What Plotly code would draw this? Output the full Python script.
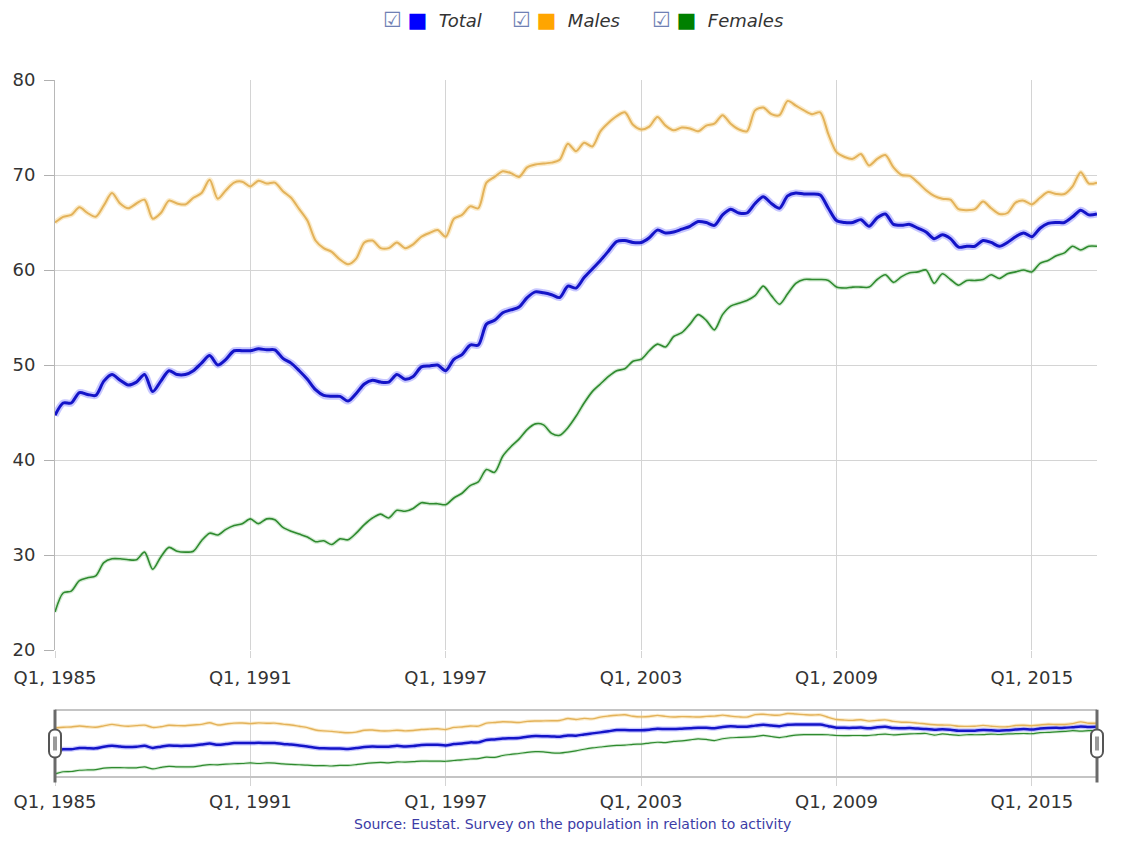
import plotly.graph_objects as go

# ---------------- data ----------------
years = list(range(1985, 2018))
quarters = [f"Q{q}, {y}" for y in years for q in (1, 2, 3, 4)][:129]

total = [
    44.7, 46.0, 46.0, 47.1,  # 1985
    46.9, 46.8, 48.3, 49.0,  # 1986
    48.4, 47.9, 48.2, 49.0,  # 1987
    47.2, 48.3, 49.4, 49.0,  # 1988
    49.0, 49.4, 50.2, 51.0,  # 1989
    50.0, 50.6, 51.5, 51.5,  # 1990
    51.5, 51.7, 51.6, 51.6,  # 1991
    50.7, 50.2, 49.4, 48.5,  # 1992
    47.4, 46.8, 46.7, 46.7,  # 1993
    46.2, 47.0, 48.0, 48.4,  # 1994
    48.2, 48.2, 49.0, 48.5,  # 1995
    48.8, 49.8, 49.9, 50.0,  # 1996
    49.4, 50.6, 51.1, 52.1,  # 1997
    52.1, 54.3, 54.7, 55.5,  # 1998
    55.8, 56.1, 57.1, 57.7,  # 1999
    57.6, 57.4, 57.1, 58.3,  # 2000
    58.1, 59.2, 60.1, 61.0,  # 2001
    62.0, 63.0, 63.1, 62.9,  # 2002
    62.9, 63.4, 64.2, 63.9,  # 2003
    64.0, 64.3, 64.6, 65.1,  # 2004
    65.0, 64.7, 65.8, 66.4,  # 2005
    66.0, 66.0, 67.0, 67.7,  # 2006
    67.0, 66.5, 67.8, 68.1,  # 2007
    68.0, 68.0, 67.9, 66.5,  # 2008
    65.2, 65.0, 65.0, 65.3,  # 2009
    64.6, 65.5, 65.9, 64.8,  # 2010
    64.7, 64.8, 64.4, 64.0,  # 2011
    63.3, 63.7, 63.3, 62.4,  # 2012
    62.5, 62.5, 63.1, 62.9,  # 2013
    62.5, 62.9, 63.5, 63.9,  # 2014
    63.5, 64.4, 64.9, 65.0,  # 2015
    65.0, 65.6, 66.3, 65.8,  # 2016
    65.9,                    # 2017
]

males = [
    65.0, 65.6, 65.8, 66.6,  # 1985
    66.0, 65.6, 66.8, 68.1,  # 1986
    67.0, 66.5, 67.0, 67.4,  # 1987
    65.4, 66.0, 67.3, 67.0,  # 1988
    66.9, 67.6, 68.1, 69.5,  # 1989
    67.5, 68.4, 69.2, 69.3,  # 1990
    68.8, 69.4, 69.1, 69.2,  # 1991
    68.3, 67.6, 66.4, 65.2,  # 1992
    63.1, 62.3, 61.9, 61.1,  # 1993
    60.6, 61.2, 62.9, 63.1,  # 1994
    62.3, 62.3, 62.9, 62.3,  # 1995
    62.7, 63.5, 63.9, 64.2,  # 1996
    63.5, 65.4, 65.8, 66.7,  # 1997
    66.5, 69.2, 69.8, 70.4,  # 1998
    70.2, 69.8, 70.8, 71.1,  # 1999
    71.2, 71.3, 71.6, 73.3,  # 2000
    72.5, 73.4, 73.0, 74.6,  # 2001
    75.5, 76.2, 76.6, 75.3,  # 2002
    74.8, 75.1, 76.1, 75.2,  # 2003
    74.7, 75.0, 74.9, 74.6,  # 2004
    75.2, 75.4, 76.3, 75.4,  # 2005
    74.8, 74.6, 76.8, 77.1,  # 2006
    76.4, 76.3, 77.8, 77.3,  # 2007
    76.8, 76.4, 76.6, 74.3,  # 2008
    72.4, 71.9, 71.7, 72.2,  # 2009
    71.0, 71.7, 72.1, 70.8,  # 2010
    70.0, 69.9, 69.2, 68.4,  # 2011
    67.8, 67.5, 67.4, 66.4,  # 2012
    66.3, 66.4, 67.2, 66.5,  # 2013
    65.9, 66.0, 67.1, 67.3,  # 2014
    66.9, 67.6, 68.2, 68.0,  # 2015
    68.0, 68.8, 70.3, 69.1,  # 2016
    69.2,                    # 2017
]

females = [
    24.0, 26.0, 26.2, 27.3,  # 1985
    27.6, 27.8, 29.2, 29.6,  # 1986
    29.6, 29.5, 29.5, 30.3,  # 1987
    28.5, 29.8, 30.8, 30.4,  # 1988
    30.3, 30.4, 31.5, 32.3,  # 1989
    32.1, 32.7, 33.1, 33.3,  # 1990
    33.8, 33.3, 33.8, 33.7,  # 1991
    32.9, 32.5, 32.2, 31.9,  # 1992
    31.4, 31.5, 31.1, 31.7,  # 1993
    31.6, 32.3, 33.2, 33.9,  # 1994
    34.3, 33.9, 34.7, 34.6,  # 1995
    34.9, 35.5, 35.4, 35.4,  # 1996
    35.3, 36.0, 36.5, 37.3,  # 1997
    37.7, 39.0, 38.7, 40.4,  # 1998
    41.4, 42.2, 43.2, 43.8,  # 1999
    43.7, 42.8, 42.6, 43.4,  # 2000
    44.6, 46.0, 47.2, 48.0,  # 2001
    48.8, 49.4, 49.6, 50.4,  # 2002
    50.6, 51.5, 52.2, 51.9,  # 2003
    53.0, 53.4, 54.3, 55.3,  # 2004
    54.7, 53.7, 55.3, 56.2,  # 2005
    56.5, 56.8, 57.3, 58.3,  # 2006
    57.3, 56.4, 57.5, 58.6,  # 2007
    59.0, 59.0, 59.0, 58.9,  # 2008
    58.2, 58.1, 58.2, 58.2,  # 2009
    58.2, 59.0, 59.5, 58.7,  # 2010
    59.3, 59.7, 59.8, 60.0,  # 2011
    58.6, 59.6, 59.0, 58.4,  # 2012
    58.9, 58.9, 59.0, 59.5,  # 2013
    59.1, 59.6, 59.8, 60.0,  # 2014
    59.8, 60.7, 61.0, 61.5,  # 2015
    61.8, 62.5, 62.1, 62.5,  # 2016
    62.5,                    # 2017
]

tick_labels = ["Q1, 1985", "Q1, 1991", "Q1, 1997", "Q1, 2003", "Q1, 2009", "Q1, 2015"]
y_ticks = [20, 30, 40, 50, 60, 70, 80]
series_names = ["Total", "Males", "Females"]
source_text = "Source: Eustat. Survey on the population in relation to activity"

# ---------------- styles ----------------
FONT = "DejaVu Sans"
line_colors = {"Total": "#1414c8", "Males": "#e3b25a", "Females": "#2f8a2f"}
glow_colors = {"Total": "rgba(70,70,255,0.30)", "Males": "rgba(245,205,120,0.40)",
               "Females": "rgba(110,190,110,0.30)"}
legend_colors = {"Total": "#0000ff", "Males": "#ffa500", "Females": "#008000"}
main_w = {"Total": 3, "Males": 2, "Females": 1.6}
glow_w = {"Total": 7, "Males": 5, "Females": 4}
nav_w = {"Total": 2.5, "Males": 1.4, "Females": 1.2}
nav_glow_w = {"Total": 5, "Males": 3.5, "Females": 3}

values = {"Total": total, "Males": males, "Females": females}

fig = go.Figure()
for name in series_names:
    # soft shadow / glow under each line (main chart)
    fig.add_trace(go.Scatter(x=quarters, y=values[name], mode="lines",
                             line=dict(color=glow_colors[name], width=glow_w[name],
                                       shape="spline", smoothing=0.8),
                             hoverinfo="skip", showlegend=False, xaxis="x", yaxis="y"))
for name in series_names:
    fig.add_trace(go.Scatter(x=quarters, y=values[name], mode="lines", name=name,
                             line=dict(color=line_colors[name], width=main_w[name],
                                       shape="spline", smoothing=0.8),
                             showlegend=False, xaxis="x", yaxis="y"))
# navigator
for name in series_names:
    fig.add_trace(go.Scatter(x=quarters, y=values[name], mode="lines",
                             line=dict(color=glow_colors[name], width=nav_glow_w[name],
                                       shape="spline", smoothing=0.8),
                             hoverinfo="skip", showlegend=False, xaxis="x2", yaxis="y2"))
for name in series_names:
    fig.add_trace(go.Scatter(x=quarters, y=values[name], mode="lines", name=name,
                             line=dict(color=line_colors[name], width=nav_w[name],
                                       shape="spline", smoothing=0.8),
                             hoverinfo="skip", showlegend=False, xaxis="x2", yaxis="y2"))

# ---------------- layout ----------------
W, H = 1140, 849
ML, MR, MT, MB = 55, 43, 80, 73
plot_h = H - MT - MB          # 696
paper_bottom_px = H - MB      # 776
main_bottom_px = 650
nav_top_px = 711
main_dom = [(paper_bottom_px - main_bottom_px) / plot_h, 1.0]
nav_dom = [0.0, (paper_bottom_px - nav_top_px) / plot_h]

grid_c = "#d4d4d4"
tick_font = dict(family=FONT, size=18, color="#333333")
n_last = len(quarters) - 1

fig.update_layout(
    width=W, height=H, autosize=False,
    margin=dict(l=ML, r=MR, t=MT, b=MB, pad=0),
    paper_bgcolor="white", plot_bgcolor="white",
    font=dict(family=FONT, size=18, color="#333333"),
    showlegend=False, hovermode=False,
    xaxis=dict(type="category", range=[0, n_last], domain=[0, 1], anchor="y",
               tickvals=tick_labels, ticktext=tick_labels, tickfont=tick_font,
               showgrid=True, gridcolor=grid_c, gridwidth=1,
               ticks="outside", ticklen=7, tickcolor=grid_c, ticklabelstandoff=4,
               showline=False, zeroline=False, fixedrange=True),
    yaxis=dict(domain=main_dom, anchor="x", range=[20, 80], tickvals=y_ticks,
               tickfont=tick_font, showgrid=True, gridcolor=grid_c, gridwidth=1,
               ticks="outside", ticklen=10, tickcolor="#b0b0b0", ticklabelstandoff=5,
               showline=True, linecolor="#b8b8b8", linewidth=1, zeroline=False,
               fixedrange=True),
    yaxis3=dict(overlaying="y", side="right", anchor="x", range=[20, 80],
                tickvals=y_ticks, tickfont=tick_font, showgrid=False,
                ticks="outside", ticklen=10, tickcolor="#b0b0b0", ticklabelstandoff=3,
                showline=True, linecolor="#b8b8b8", linewidth=1, zeroline=False,
                fixedrange=True),
    xaxis2=dict(type="category", range=[0, n_last], domain=[0, 1], anchor="y2",
                tickvals=tick_labels, ticktext=tick_labels, tickfont=tick_font,
                showgrid=True, gridcolor=grid_c, gridwidth=1,
                ticks="outside", ticklen=8, tickcolor=grid_c, ticklabelstandoff=0,
                showline=True, mirror=True, linecolor="#c4c4c4", linewidth=2,
                zeroline=False, fixedrange=True),
    yaxis2=dict(domain=nav_dom, anchor="x2", range=[22.2, 80], showticklabels=False,
                showgrid=False, zeroline=False, showline=False, ticks="",
                fixedrange=True),
)

# navigator handles (decoration)
shapes = []
for xd in (0, 1):
    shapes.append(dict(type="line", xref="x2 domain", yref="y2 domain",
                       x0=xd, x1=xd, y0=-0.1, y1=1.02,
                       line=dict(color="#6a6a6a", width=3), layer="above"))
    shapes.append(dict(type="path", xref="x2 domain", yref="y2 domain",
                       xsizemode="pixel", ysizemode="pixel", xanchor=xd, yanchor=0.5,
                       path="M -6,-8 L -6,8 C -6,16 6,16 6,8 L 6,-8 C 6,-16 -6,-16 -6,-8 Z",
                       fillcolor="white", line=dict(color="#555555", width=2),
                       layer="above"))
    shapes.append(dict(type="rect", xref="x2 domain", yref="y2 domain",
                       xsizemode="pixel", ysizemode="pixel", xanchor=xd, yanchor=0.5,
                       x0=-2, x1=2, y0=-7, y1=7, fillcolor="#9a9a9a",
                       line=dict(width=0), layer="above"))
fig.update_layout(shapes=shapes)

# legend drawn as text (checkbox + coloured square + italic label)
def px_to_paper_x(px):
    return (px - ML) / (W - ML - MR)

def px_to_paper_y(py):
    return (paper_bottom_px - py) / plot_h

legend_start_px = {"Total": 381, "Males": 510, "Females": 650}
annotations = []
for name in series_names:
    txt = ("<span style='color:#6f80b4;font-size:21px'>\u2611</span> "
           f"<span style='color:{legend_colors[name]};font-size:21px'>\u25A0</span>  "
           f"<i>{name}</i>")
    annotations.append(dict(text=txt, xref="paper", yref="paper",
                            x=px_to_paper_x(legend_start_px[name]), y=px_to_paper_y(20),
                            xanchor="left", yanchor="middle", showarrow=False,
                            font=dict(family=FONT, size=18, color="#333333")))
annotations.append(dict(text=source_text, xref="paper", yref="paper",
                        x=px_to_paper_x(572), y=px_to_paper_y(824),
                        xanchor="center", yanchor="middle", showarrow=False,
                        font=dict(family=FONT, size=14, color="#3c3ca6")))
fig.update_layout(annotations=annotations)

fig.write_html("out.html", config={"displayModeBar": False},
               post_script="document.body.style.margin='0';document.body.style.overflow='hidden';")
